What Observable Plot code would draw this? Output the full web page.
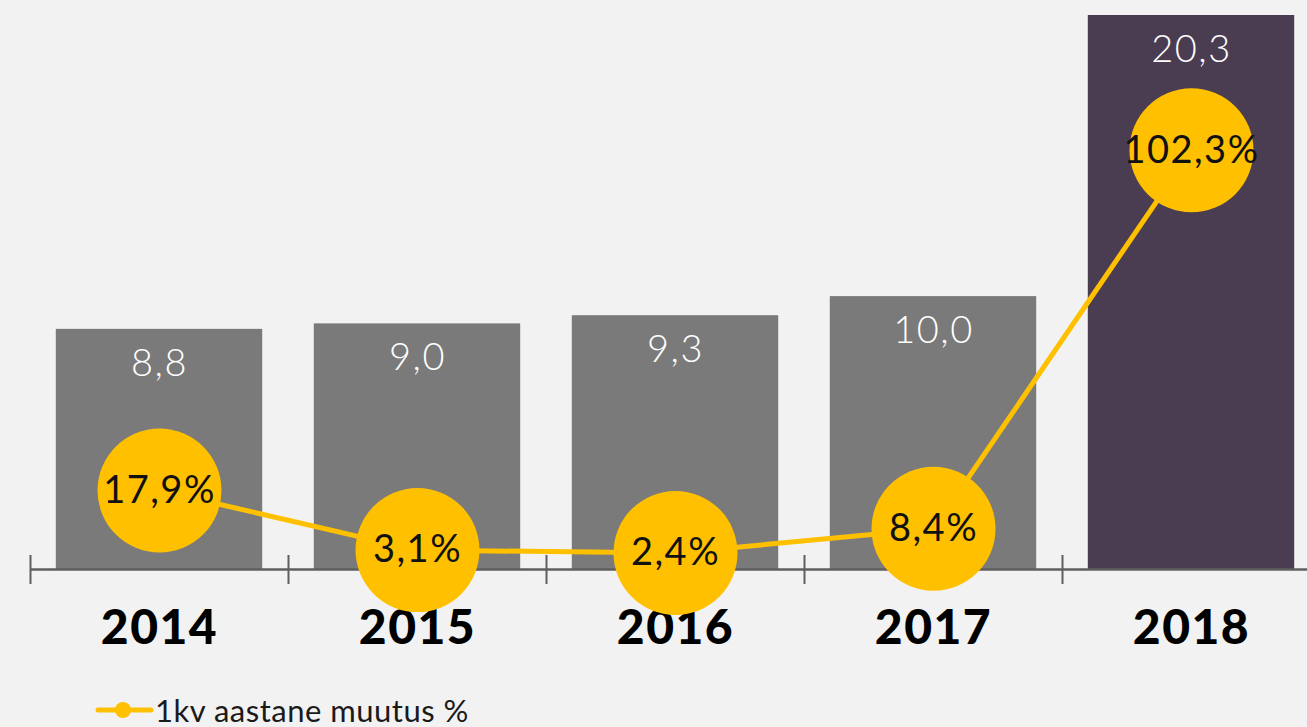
<!DOCTYPE html>
<html><head><meta charset="utf-8">
<script src="https://cdn.jsdelivr.net/npm/d3@7"></script>
<script src="https://cdn.jsdelivr.net/npm/@observablehq/plot@0.6"></script>
<style>
html,body{margin:0;padding:0;background:#f2f2f2;overflow:hidden;width:1307px;height:727px;}
#chart{position:absolute;left:0;top:0;width:1320px;}
#chart svg{max-width:none !important;}
#chart text{letter-spacing:1.5px;}
#legend{position:absolute;left:95px;top:691px;display:flex;align-items:center;font-family:Lato, sans-serif;font-size:31px;letter-spacing:0.5px;color:#1a1a1a;}
#legend svg{margin-right:0px;}
</style></head><body>
<div id="chart"></div>
<div id="legend"><svg width="60" height="20"><line x1="3" y1="10" x2="56" y2="10" stroke="#FFC000" stroke-width="5" stroke-linecap="round"/><circle cx="28" cy="10" r="8" fill="#FFC000"/></svg><span>1kv aastane muutus %</span></div>
<script>
const years = ["2014", "2015", "2016", "2017", "2018"];
const values = [8.8, 9.0, 9.3, 10.0, 20.3];
const valueLabels = ["8,8", "9,0", "9,3", "10,0", "20,3"];
const changes = [17.9, 3.1, 2.4, 8.4, 102.3];
const changeLabels = ["17,9%", "3,1%", "2,4%", "8,4%", "102,3%"];
const barColors = ["#7a7a7a", "#7a7a7a", "#7a7a7a", "#7a7a7a", "#4a3d51"];

// secondary (percent) axis mapped onto the primary value axis
const pctToY = d3.scaleLinear().domain([-1.71, 135.76]).range([0, 20.3]);

const data = years.map((year, i) => ({
  i, year, value: values[i], label: valueLabels[i],
  change: changes[i], changeLabel: changeLabels[i], color: barColors[i]
}));
const boundaries = d3.range(years.length + 1);
const font = "Lato, sans-serif";
const cx = d => d.i + 0.5;

const chart = Plot.plot({
  width: 1320,
  height: 680,
  marginTop: 15,
  marginBottom: 111,
  marginLeft: 30,
  marginRight: 0,
  style: {background: "transparent", fontFamily: font, maxWidth: "none"},
  x: {domain: [0, years.length], axis: null},
  y: {domain: [0, 20.3], axis: null},
  color: {type: "identity"},
  marks: [
    Plot.rectY(data, {x1: d => d.i + 0.1, x2: d => d.i + 0.9, y: "value", fill: "color"}),
    Plot.ruleY([0], {stroke: "#5f5f5f", strokeWidth: 2.5}),
    Plot.ruleX(boundaries, {x: d => d, y1: () => 0, y2: () => 0, insetTop: 15, insetBottom: 14, stroke: "#5f5f5f", strokeWidth: 2}),
    Plot.text(data, {x: cx, y: "value", text: "label", dy: 34, fill: "white", fontSize: 38, fontWeight: 300, fontFamily: font}),
    Plot.text(data, {x: cx, y: () => 0, text: "year", dy: 59, fill: "#000", fontSize: 48, fontWeight: 900, fontFamily: font}),
    Plot.line(data, {x: cx, y: d => pctToY(d.change), stroke: "#FFC000", strokeWidth: 5}),
    Plot.dot(data, {x: cx, y: d => pctToY(d.change), r: 62, fill: "#FFC000"}),
    Plot.text(data, {x: cx, y: d => pctToY(d.change), text: "changeLabel", fill: "#111", fontSize: 38, fontWeight: 400, fontFamily: font})
  ]
});
document.getElementById("chart").appendChild(chart);
</script>
</body></html>
